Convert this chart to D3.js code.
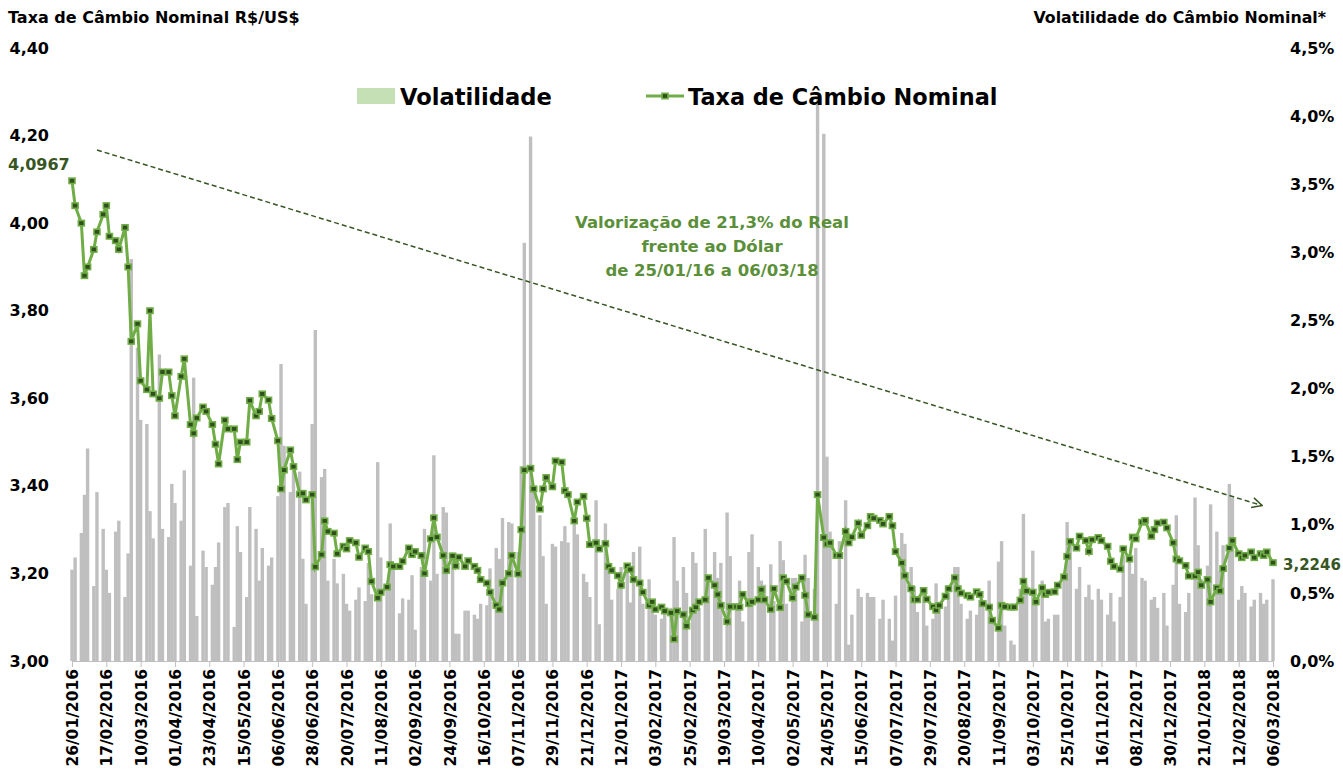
<!DOCTYPE html>
<meta charset="utf-8">
<style>
  body { margin: 0; background: #ffffff; }
  .lbl { font-family: "DejaVu Sans", Verdana, sans-serif; font-weight: bold; }
  .axis text { font-family: "DejaVu Sans", Verdana, sans-serif; font-weight: bold; fill: #000; }
</style>
<body>
<script src="https://cdn.jsdelivr.net/npm/d3@7"></script>
<script>

// first trading day and sampling (every other business day)
var startDate = new Date(2016, 0, 26);
var endDate = new Date(2018, 2, 6);

// Taxa de Câmbio Nominal R$/US$
var taxa = [
  4.0967, 4.04, 4.00, 3.88, 3.90, 3.94, 3.98, 4.02, 4.04, 3.97, 3.96, 3.94, 3.99, 3.90, 3.73, 3.77, 3.64, 3.62, 3.80, 3.61, 3.60, 3.66,
  3.66, 3.606, 3.56, 3.65, 3.69, 3.54, 3.52, 3.555, 3.58, 3.57, 3.54, 3.495, 3.45, 3.55, 3.53, 3.53, 3.46, 3.50, 3.50, 3.595, 3.56, 3.57, 3.61,
  3.596, 3.554, 3.503, 3.393, 3.436, 3.482, 3.444, 3.381, 3.383, 3.368, 3.38, 3.215, 3.243, 3.32, 3.296, 3.292, 3.245, 3.262, 3.256, 3.275, 3.27, 3.237, 3.258,
  3.25, 3.182, 3.144, 3.157, 3.169, 3.22, 3.216, 3.216, 3.228, 3.258, 3.243, 3.25, 3.241, 3.20, 3.279, 3.327, 3.283, 3.241, 3.207, 3.24, 3.217, 3.237, 3.216, 3.229,
  3.216, 3.207, 3.186, 3.178, 3.157, 3.127, 3.118, 3.178, 3.20, 3.241, 3.199, 3.30, 3.436, 3.44, 3.393, 3.347, 3.393, 3.419, 3.398, 3.457, 3.454, 3.389, 3.38,
  3.32, 3.363, 3.376, 3.326, 3.266, 3.27, 3.256, 3.268, 3.216, 3.207, 3.195, 3.173, 3.217, 3.209, 3.186, 3.178, 3.157, 3.127, 3.135, 3.118, 3.123, 3.114, 3.11,
  3.05, 3.114, 3.106, 3.08, 3.116, 3.123, 3.135, 3.14, 3.19, 3.173, 3.152, 3.127, 3.09, 3.124, 3.124, 3.123, 3.152, 3.131, 3.135, 3.14, 3.163, 3.14, 3.118, 3.165,
  3.122, 3.19, 3.182, 3.144, 3.169, 3.19, 3.15, 3.106, 3.10, 3.38, 3.282, 3.267, 3.27, 3.241, 3.241, 3.296, 3.27, 3.283, 3.315, 3.287, 3.309, 3.33, 3.326,
  3.321, 3.313, 3.33, 3.309, 3.25, 3.224, 3.195, 3.165, 3.14, 3.14, 3.161, 3.141, 3.124, 3.116, 3.127, 3.148, 3.165, 3.19, 3.165, 3.155, 3.15, 3.146, 3.158,
  3.152, 3.131, 3.123, 3.093, 3.075, 3.127, 3.124, 3.123, 3.123, 3.139, 3.182, 3.16, 3.157, 3.135, 3.167, 3.152, 3.157, 3.158, 3.173, 3.192, 3.239, 3.273, 3.258, 3.285,
  3.275, 3.25, 3.277, 3.282, 3.275, 3.262, 3.228, 3.216, 3.21, 3.256, 3.233, 3.283, 3.279, 3.317, 3.321, 3.285, 3.30, 3.315, 3.317, 3.304, 3.27, 3.233, 3.229,
  3.218, 3.194, 3.194, 3.203, 3.173, 3.186, 3.135, 3.167, 3.16, 3.211, 3.258, 3.275, 3.245, 3.236, 3.241, 3.249, 3.236, 3.245, 3.241, 3.249, 3.2246
];

// Volatilidade do Câmbio Nominal (%)
var volat = [
  0.67, 0.76, 0.94, 1.22, 1.56, 0.55, 1.24, 0.97, 0.67, 0.50, 0.95, 1.03, 0.47, 0.79, 2.95, 2.30, 1.77, 1.74, 1.10, 0.90, 2.25, 0.97,
  0.91, 1.30, 1.16, 1.03, 1.40, 0.70, 2.08, 0.33, 0.81, 0.69, 0.56, 0.69, 0.87, 1.13, 1.16, 0.25, 0.99, 0.80, 0.47, 1.13, 0.97, 0.59, 0.83,
  0.70, 0.76, 1.21, 2.18, 1.58, 1.24, 1.40, 1.39, 0.75, 0.42, 1.74, 2.43, 1.35, 1.41, 0.59, 0.75, 0.57, 0.64, 0.42, 0.37, 0.45, 0.54, 0.44,
  0.72, 0.49, 1.46, 0.76, 0.56, 1.01, 0.69, 0.35, 0.46, 0.45, 0.63, 0.23, 0.69, 0.97, 0.59, 1.51, 0.64, 1.13, 1.09, 0.76, 0.20, 0.20, 0.37, 0.37,
  0.34, 0.31, 0.42, 0.41, 0.68, 0.83, 0.75, 1.05, 1.02, 1.01, 0.80, 1.43, 3.07, 3.85, 1.24, 1.07, 0.77, 0.42, 0.86, 0.84, 0.88, 0.99, 0.87,
  1.02, 0.93, 0.64, 0.58, 0.47, 1.18, 0.27, 1.01, 0.67, 0.45, 0.53, 0.69, 0.69, 0.43, 0.80, 0.84, 0.42, 0.60, 0.42, 0.34, 0.31, 0.37, 0.39,
  0.91, 0.59, 0.69, 0.50, 0.80, 0.72, 0.39, 0.97, 0.61, 0.80, 0.61, 0.72, 1.09, 0.77, 0.42, 0.59, 0.29, 0.80, 0.93, 0.69, 0.59, 0.56, 0.71, 0.44,
  0.88, 0.74, 0.42, 0.61, 0.61, 0.29, 0.78, 0.61, 0.53, 4.14, 3.87, 1.50, 0.95, 0.42, 0.88, 1.18, 0.12, 0.34, 0.53, 0.47, 0.50, 0.47, 0.47,
  0.31, 0.45, 0.31, 0.15, 0.48, 0.94, 0.86, 0.69, 0.55, 0.36, 0.50, 0.26, 0.31, 0.57, 0.42, 0.40, 0.50, 0.69, 0.69, 0.42, 0.31, 0.37, 0.34,
  0.45, 0.42, 0.59, 0.31, 0.73, 0.88, 0.26, 0.15, 0.12, 0.53, 1.08, 0.56, 0.81, 0.45, 0.59, 0.29, 0.31, 0.34, 0.34, 0.61, 1.02, 0.88, 0.53, 0.69,
  0.47, 0.56, 0.45, 0.53, 0.45, 0.34, 0.50, 0.29, 0.47, 0.78, 0.75, 0.64, 0.83, 0.61, 0.59, 0.45, 0.47, 0.39, 0.50, 0.26, 0.56, 1.07, 0.42,
  0.36, 0.50, 1.20, 0.85, 0.60, 0.70, 1.15, 0.95, 0.66, 0.85, 1.30, 1.20, 0.45, 0.55, 0.50, 0.40, 0.45, 0.50, 0.42, 0.45, 0.60
];

var leftTicks = [3.0, 3.2, 3.4, 3.6, 3.8, 4.0, 4.2, 4.4];
var rightTicks = [0, 0.5, 1.0, 1.5, 2.0, 2.5, 3.0, 3.5, 4.0, 4.5];
var tickStepDays = 22;

var annotLines = ["Valorização de 21,3% do Real", "frente ao Dólar", "de 25/01/16 a 06/03/18"];

// build the sample dates: every other business day from the start
var dates = [];
var d = new Date(startDate), wk = 0;
while (d <= endDate) {
  var dow = d.getDay();
  if (dow != 0 && dow != 6) {
    if (wk % 2 == 0) dates.push(new Date(d));
    wk++;
  }
  d = d3.timeDay.offset(d, 1);
}

var data = taxa.map(function (v, i) { return { date: dates[i], taxa: v, vol: volat[i] }; });

// ticks every 22 days on the date axis
var xTicks = [];
for (var k = 0; d3.timeDay.offset(startDate, k * tickStepDays) <= endDate; k++) {
  xTicks.push(d3.timeDay.offset(startDate, k * tickStepDays));
}

var W = 1343, H = 776;
var plot = { left: 72, right: 1273, top: 48, bottom: 661 };

var x = d3.scaleTime().domain([startDate, endDate]).range([plot.left, plot.right]);
var yL = d3.scaleLinear().domain([3.0, 4.4]).range([plot.bottom, plot.top]);
var yR = d3.scaleLinear().domain([0, 4.5]).range([plot.bottom, plot.top]);

var svg = d3.select("body").append("svg")
  .attr("width", W)
  .attr("height", H);

svg.append("defs").append("marker")
  .attr("id", "arrow")
  .attr("viewBox", "0 0 12 12")
  .attr("refX", 11).attr("refY", 6)
  .attr("markerWidth", 12).attr("markerHeight", 12)
  .attr("markerUnits", "userSpaceOnUse")
  .attr("orient", "auto")
  .append("path")
  .attr("d", "M1,1 L11,6 L1,11")
  .attr("fill", "none")
  .attr("stroke", "#375623")
  .attr("stroke-width", 1.5);

// volatility bars
svg.append("g").selectAll("rect")
  .data(data)
  .enter().append("rect")
  .attr("x", function (d) { return x(d.date) - 1.7; })
  .attr("width", 3.4)
  .attr("y", function (d) { return yR(d.vol); })
  .attr("height", function (d) { return yR(0) - yR(d.vol); })
  .attr("fill", "#bfbfbf");

// bottom axis
var xAxis = svg.append("g")
  .attr("class", "axis")
  .attr("transform", "translate(0," + plot.bottom + ")")
  .call(d3.axisBottom(x).tickValues(xTicks).tickSize(6).tickFormat(d3.timeFormat("%d/%m/%Y")));
xAxis.select(".domain").attr("stroke", "#bfbfbf");
xAxis.selectAll(".tick line").attr("stroke", "#bfbfbf");
xAxis.selectAll("text")
  .attr("transform", "rotate(-90)")
  .attr("x", -8).attr("y", 0).attr("dy", "0.36em")
  .style("text-anchor", "end")
  .style("font-size", "15.5px");

// left axis
var yAxisL = svg.append("g")
  .attr("class", "axis")
  .attr("transform", "translate(" + plot.left + ",0)")
  .call(d3.axisLeft(yL).tickValues(leftTicks).tickSize(0).tickPadding(23)
    .tickFormat(function (v) { return v.toFixed(2).replace(".", ","); }));
yAxisL.select(".domain").remove();
yAxisL.selectAll("text").style("font-size", "16px");

// right axis
var yAxisR = svg.append("g")
  .attr("class", "axis")
  .attr("transform", "translate(" + plot.right + ",0)")
  .call(d3.axisRight(yR).tickValues(rightTicks).tickSize(0).tickPadding(17)
    .tickFormat(function (v) { return v.toFixed(1).replace(".", ",") + "%"; }));
yAxisR.select(".domain").remove();
yAxisR.selectAll("text").style("font-size", "16px");

// trend arrow
svg.append("line")
  .attr("x1", x(d3.timeDay.offset(startDate, 16)))
  .attr("y1", yL(4.167))
  .attr("x2", x(d3.timeDay.offset(startDate, 763)))
  .attr("y2", yL(3.355))
  .attr("stroke", "#375623")
  .attr("stroke-width", 1.5)
  .attr("stroke-dasharray", "5,3")
  .attr("marker-end", "url(#arrow)");

// exchange rate line
svg.append("path")
  .datum(data)
  .attr("fill", "none")
  .attr("stroke", "#70ad47")
  .attr("stroke-width", 3)
  .attr("d", d3.line().x(function (d) { return x(d.date); }).y(function (d) { return yL(d.taxa); }));

svg.append("g").selectAll("rect")
  .data(data)
  .enter().append("rect")
  .attr("x", function (d) { return x(d.date) - 3; })
  .attr("y", function (d) { return yL(d.taxa) - 2.7; })
  .attr("width", 6).attr("height", 5.4)
  .attr("fill", "#2f4f1d")
  .attr("stroke", "#70ad47")
  .attr("stroke-width", 1.6);

// first / last value labels
svg.append("text")
  .attr("class", "lbl")
  .attr("x", 8).attr("y", 170)
  .attr("fill", "#375623")
  .style("font-size", "16px")
  .text(taxa[0].toFixed(4).replace(".", ","));

svg.append("text")
  .attr("class", "lbl")
  .attr("x", x(endDate) + 10).attr("y", yL(taxa[taxa.length - 1]) + 7)
  .attr("fill", "#375623")
  .style("font-size", "15px")
  .text(taxa[taxa.length - 1].toFixed(4).replace(".", ","));

// axis titles
svg.append("text")
  .attr("class", "lbl")
  .attr("x", 8).attr("y", 23)
  .style("font-size", "16px")
  .text("Taxa de Câmbio Nominal R$/US$");

svg.append("text")
  .attr("class", "lbl")
  .attr("x", 1326).attr("y", 23)
  .attr("text-anchor", "end")
  .style("font-size", "15.8px")
  .text("Volatilidade do Câmbio Nominal*");

// legend
svg.append("rect")
  .attr("x", 357).attr("y", 88)
  .attr("width", 38).attr("height", 16)
  .attr("fill", "#c5e0b4");
svg.append("text")
  .attr("class", "lbl")
  .attr("x", 400).attr("y", 105)
  .style("font-size", "22.6px")
  .text("Volatilidade");

svg.append("line")
  .attr("x1", 646).attr("x2", 684)
  .attr("y1", 96).attr("y2", 96)
  .attr("stroke", "#70ad47")
  .attr("stroke-width", 3);
svg.append("rect")
  .attr("x", 662).attr("y", 93.3)
  .attr("width", 6).attr("height", 5.4)
  .attr("fill", "#2f4f1d")
  .attr("stroke", "#70ad47")
  .attr("stroke-width", 1.6);
svg.append("text")
  .attr("class", "lbl")
  .attr("x", 688).attr("y", 105)
  .style("font-size", "22.4px")
  .text("Taxa de Câmbio Nominal");

// annotation
svg.append("g").selectAll("text")
  .data(annotLines)
  .enter().append("text")
  .attr("class", "lbl")
  .attr("x", 712)
  .attr("y", function (d, i) { return 228 + i * 24; })
  .attr("text-anchor", "middle")
  .attr("fill", "#5b8f3a")
  .style("font-size", "16.5px")
  .text(function (d) { return d; });

</script>
</body>
